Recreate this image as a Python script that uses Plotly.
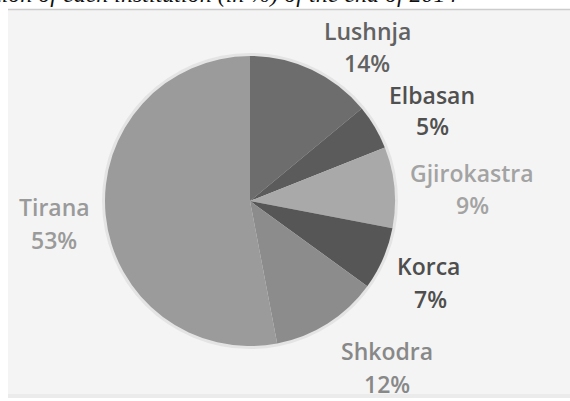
import plotly.graph_objects as go

W, H = 570, 401

# data (percent of total, clockwise from 12 o'clock)
districts = ["Lushnja", "Elbasan", "Gjirokastra", "Korca", "Shkodra", "Tirana"]
shares = [14, 5, 9, 7, 12, 53]
slice_colors = ["#6d6d6d", "#5b5b5b", "#a9a9a9", "#565656", "#8c8c8c", "#9b9b9b"]
label_colors = ["#626262", "#505050", "#a3a3a3", "#4e4e4e", "#888888", "#9a9a9a"]

# label block centres in pixels (name line, percent line)
name_pos = [(367, 31), (432, 95), (472, 173), (428, 266), (387, 351), (54, 207)]
pct_pos = [(367, 63), (432, 126), (472, 205), (430, 299), (387, 384), (54, 240)]

cx, cy, r = 250, 201, 145


def px(x):
    return x / W


def py(y):
    return 1 - y / H


fig = go.Figure()

# soft halo behind the pie
fig.add_trace(go.Pie(
    values=[1], labels=["halo"], marker=dict(colors=["#e4e4e4"]),
    textinfo="none", hoverinfo="skip", showlegend=False, sort=False,
    domain=dict(x=[px(cx - r - 3), px(cx + r + 3)], y=[py(cy + r + 3), py(cy - r - 3)]),
))

fig.add_trace(go.Pie(
    labels=districts, values=shares, sort=False, direction="clockwise", rotation=0,
    marker=dict(colors=slice_colors, line=dict(width=0)),
    textinfo="none", showlegend=False,
    domain=dict(x=[px(cx - r), px(cx + r)], y=[py(cy + r), py(cy - r)]),
))

annotations = []
for name, val, col, (nx, ny), (qx, qy) in zip(districts, shares, label_colors, name_pos, pct_pos):
    f = dict(family="Open Sans, Noto Sans, sans-serif", size=23, color=col, weight=600)
    annotations.append(dict(text=name, x=px(nx), y=py(ny), xref="paper", yref="paper",
                            xanchor="center", yanchor="middle", showarrow=False, font=f))
    annotations.append(dict(text=f"{val}%", x=px(qx), y=py(qy), xref="paper", yref="paper",
                            xanchor="center", yanchor="middle", showarrow=False, font=f))

# cut-off caption line from the scanned page
annotations.append(dict(
    text="tion of each institution (in %) of the end of 2014",
    x=px(-6), y=py(8), xref="paper", yref="paper", xanchor="left", yanchor="bottom",
    showarrow=False, borderpad=0,
    font=dict(family="Liberation Serif, serif", size=24, color="#111111", style="italic"),
))

fig.update_layout(
    width=W, height=H,
    margin=dict(l=0, r=0, t=0, b=0),
    paper_bgcolor="white",
    plot_bgcolor="white",
    annotations=annotations,
    shapes=[
        dict(type="rect", xref="paper", yref="paper", layer="below",
             x0=px(8), x1=1, y0=py(398), y1=py(394), fillcolor="#ebebeb", line=dict(width=0)),
        dict(type="rect", xref="paper", yref="paper", layer="below",
             x0=px(8), x1=1, y0=py(394), y1=py(10), fillcolor="#f4f4f4", line=dict(width=0)),
        dict(type="line", xref="paper", yref="paper", layer="below",
             x0=px(8), x1=1, y0=py(9.5), y1=py(9.5), line=dict(color="#cccccc", width=1.5)),
    ],
)

fig.write_html("out.html", config={"displayModeBar": False},
               post_script="document.body.style.margin='0';")
